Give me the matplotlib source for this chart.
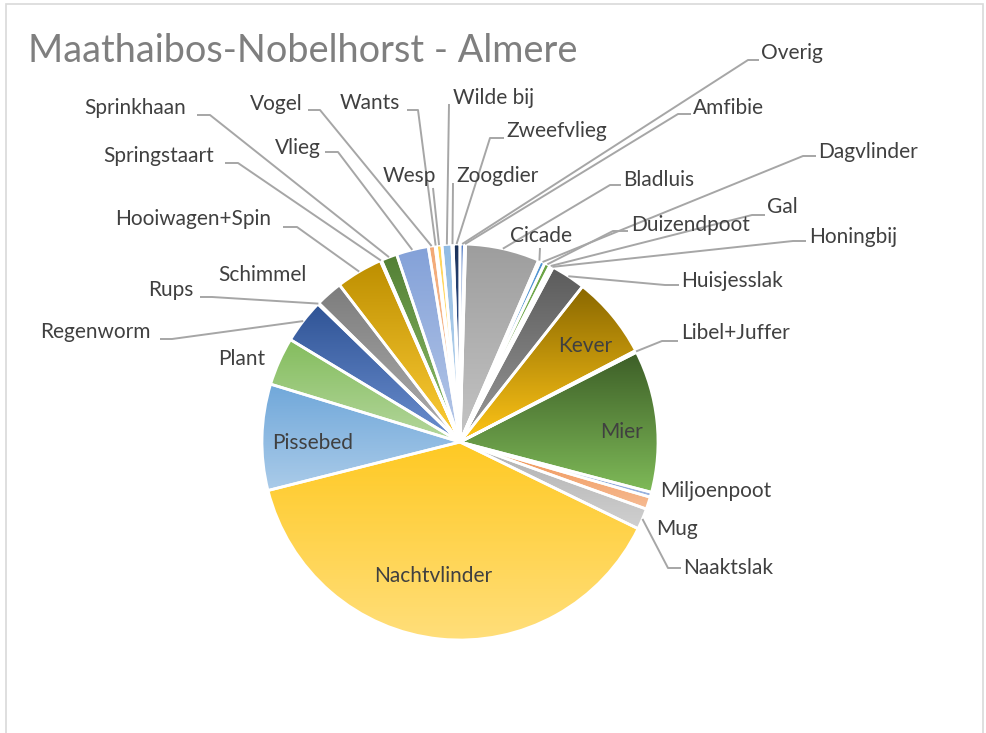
import colorsys
import numpy as np
import matplotlib
matplotlib.use("Agg")
import matplotlib.pyplot as plt
from matplotlib.colors import to_rgb
from matplotlib.patches import Rectangle

# ---------------- data (share in %) ----------------
categories = ["Overig", "Amfibie", "Bladluis", "Cicade", "Dagvlinder", "Duizendpoot",
              "Gal", "Honingbij", "Huisjesslak", "Kever", "Libel+Juffer", "Mier",
              "Miljoenpoot", "Mug", "Naaktslak", "Nachtvlinder", "Pissebed", "Plant",
              "Regenworm", "Rups", "Schimmel", "Hooiwagen+Spin", "Springstaart",
              "Sprinkhaan", "Vlieg", "Vogel", "Wants", "Wesp", "Wilde bij",
              "Zoogdier", "Zweefvlieg"]
values = [0.35, 0.1, 6.0, 0.15, 0.4, 0.45,
          0.15, 0.15, 2.8, 6.7, 0.15, 11.5,
          0.4, 1.0, 1.7, 38.6, 8.6, 3.9,
          3.6, 0.1, 2.2, 3.8, 0.1,
          1.3, 2.6, 0.55, 0.1, 0.45, 0.8,
          0.1, 0.55]
colors = ["#4472C4", "#ED7D31", "#A5A5A5", "#FFC000", "#5B9BD5", "#70AD47",
          "#264478", "#9E480E", "#636363", "#997300", "#255E91", "#43682B",
          "#698ED0", "#F1975A", "#B7B7B7", "#FFCD33", "#7CAFDD", "#8CC168",
          "#335AA1", "#D26012", "#848484", "#CC9A00", "#2E75B6",
          "#5A8A39", "#8FAADC", "#F4B183", "#C9C9C9", "#FFD966", "#9DC3E6",
          "#A9D18E", "#1F3864"]
title = "Maathaibos-Nobelhorst - Almere"

# ---------------- layout (pixel positions of the reference) ----------------
W, H = 986, 733
FONT = ["Lato", "DejaVu Sans"]
LABEL_SIZE = 15
TEXT_COLOR = "#404040"
LINE_COLOR = "#A6A6A6"

# outside labels: text left x, text centre y, elbow points of leader line
outside = {
    "Overig":         (761, 53,  [(748, 60), (759, 60)]),
    "Amfibie":        (693, 108, [(678, 114), (691, 114)]),
    "Dagvlinder":     (818, 152, [(803, 156), (816, 156)]),
    "Bladluis":       (623, 180, [(610, 185), (621, 185)]),
    "Gal":            (767, 207, [(752, 215), (765, 215)]),
    "Duizendpoot":    (631, 225, [(613, 231), (628, 231)]),
    "Honingbij":      (809, 237, [(793, 241), (806, 241)]),
    "Huisjesslak":    (681, 281, [(665, 285), (679, 285)]),
    "Libel+Juffer":   (681, 333, [(662, 341), (678, 341)]),
    "Miljoenpoot":    (660, 491, []),
    "Mug":            (656, 529, []),
    "Naaktslak":      (683, 568, [(668, 568), (681, 568)]),
    "Plant":          (218, 359, []),
    "Regenworm":      (40, 332,  [(172, 339), (160, 339)]),
    "Rups":           (148, 290, [(212, 297), (200, 297)]),
    "Schimmel":       (218, 275, []),
    "Hooiwagen+Spin": (115, 219, [(297, 227), (283, 227)]),
    "Springstaart":   (103, 156, [(238, 163), (225, 163)]),
    "Sprinkhaan":     (84, 108,  [(210, 115), (197, 115)]),
    "Vlieg":          (275, 148, [(338, 152), (325, 152)]),
    "Vogel":          (250, 104, [(320, 110), (308, 110)]),
    "Wesp":           (383, 176, [(433, 188)]),
    "Wants":          (340, 103, [(418, 110), (407, 110)]),
    "Wilde bij":      (453, 98,  [(449, 104)]),
    "Zoogdier":       (456, 176, [(453, 183)]),
    "Zweefvlieg":     (506, 131, [(490, 138), (504, 138)]),
    "Cicade":         (510, 236, [(540, 248)]),
}
inside = {
    "Kever": (585, 346),
    "Mier": (622, 432),
    "Pissebed": (313, 443),
    "Nachtvlinder": (433, 576),
}


def fy(y):
    return H - y


def shade(c, dl):
    r, g, b = to_rgb(c)
    h, l, s = colorsys.rgb_to_hls(r, g, b)
    if dl >= 0:
        l = l + dl * (1 - l)
    else:
        l = max(0, l + dl)
    return np.array(colorsys.hls_to_rgb(h, min(l, 1), s))


fig = plt.figure(figsize=(W / 100, H / 100), dpi=100)
ax = fig.add_axes([0, 0, 1, 1])

CX, CY, R = 460, fy(442), 198
wedges, _ = ax.pie(values, colors=colors, startangle=90, counterclock=False,
                   center=(CX, CY), radius=R, frame=True,
                   wedgeprops=dict(edgecolor="white", linewidth=2.0))

# gradient fill per slice (top: base colour, bottom: lighter)
grad = np.linspace(0, 1, 256)[:, None, None]
for w, c in zip(wedges, colors):
    ts = np.deg2rad(np.linspace(w.theta1, w.theta2, 80))
    xs = np.concatenate([CX + R * np.cos(ts), [CX]])
    ys = np.concatenate([CY + R * np.sin(ts), [CY]])
    top = shade(c, -0.03)
    bot = shade(c, 0.35)
    img = top[None, None, :] * (1 - grad) + bot[None, None, :] * grad
    im = ax.imshow(img, extent=(xs.min(), xs.max(), ys.min(), ys.max()),
                   origin="upper", aspect="auto", interpolation="bilinear", zorder=1)
    im.set_clip_path(w)
    w.set_facecolor("none")
    w.set_zorder(2)

# labels
mid = {}
for name, w in zip(categories, wedges):
    a = np.deg2rad((w.theta1 + w.theta2) / 2)
    mid[name] = (CX + R * np.cos(a), CY + R * np.sin(a))

for name, (tx, ty, pts) in outside.items():
    if pts:
        lx = [mid[name][0]] + [p[0] for p in pts]
        ly = [mid[name][1]] + [fy(p[1]) for p in pts]
        ax.plot(lx, ly, color=LINE_COLOR, lw=1.4, zorder=3, solid_capstyle="butt")
    ax.text(tx, fy(ty), name, ha="left", va="center", fontsize=LABEL_SIZE,
            color=TEXT_COLOR, family=FONT, zorder=4)

for name, (tx, ty) in inside.items():
    ax.text(tx, fy(ty), name, ha="center", va="center", fontsize=LABEL_SIZE,
            color=TEXT_COLOR, family=FONT, zorder=4)

ax.text(28, fy(62), title, ha="left", va="baseline", fontsize=27.3,
        color="#7F7F7F", family=FONT)

ax.add_patch(Rectangle((6, fy(733) - 5), 977, 733 - 4 + 5, fill=False,
                       edgecolor="#D9D9D9", lw=1.2, zorder=0))

ax.set_xlim(0, W)
ax.set_ylim(0, H)
ax.set_aspect("auto")
ax.axis("off")
fig.savefig("out.png", dpi=100, facecolor="white")
